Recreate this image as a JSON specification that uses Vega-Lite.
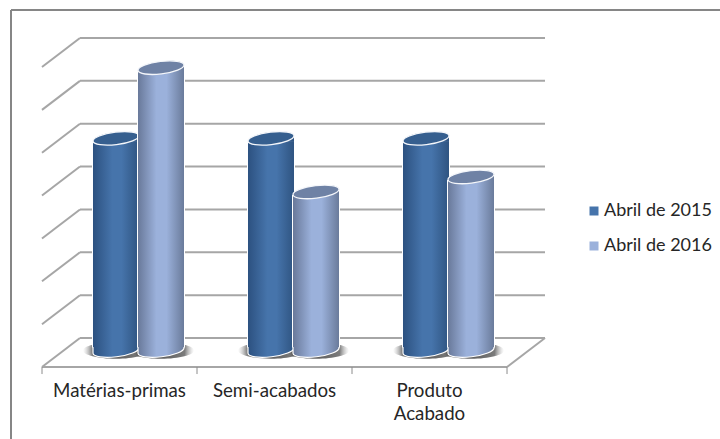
{
  "$schema": "https://vega.github.io/schema/vega-lite/v6.json",
  "width": 709,
  "height": 429,
  "autosize": "none",
  "padding": {"left": 11, "top": 10, "right": 0, "bottom": 0},
  "background": "white",
  "config": {
    "view": {"stroke": null},
    "axis": {"disable": true},
    "font": "Lato"
  },
  "datasets": {
    "niveis": [
      {"nivel": 0}, {"nivel": 20}, {"nivel": 40}, {"nivel": 60},
      {"nivel": 80}, {"nivel": 100}, {"nivel": 120}, {"nivel": 140}
    ],
    "marcas": [{"divisa": 0}, {"divisa": 1}, {"divisa": 2}, {"divisa": 3}],
    "rotulos": [
      {"categoria": "Matérias-primas", "rotulo": "Matérias-primas"},
      {"categoria": "Semi-acabados", "rotulo": "Semi-acabados"},
      {"categoria": "Produto Acabado", "rotulo": "Produto\nAcabado"}
    ]
  },
  "data": {
    "values": [
      {"categoria": "Matérias-primas", "periodo": "Abril de 2015", "valor": 99},
      {"categoria": "Matérias-primas", "periodo": "Abril de 2016", "valor": 132},
      {"categoria": "Semi-acabados", "periodo": "Abril de 2015", "valor": 99},
      {"categoria": "Semi-acabados", "periodo": "Abril de 2016", "valor": 74},
      {"categoria": "Produto Acabado", "periodo": "Abril de 2015", "valor": 99},
      {"categoria": "Produto Acabado", "periodo": "Abril de 2016", "valor": 81}
    ]
  },
  "resolve": {"scale": {"x": "independent", "y": "independent"}},
  "layer": [
    {
      "description": "Open frame, box walls and floor of the 3D plot",
      "layer": [
        {
          "data": {"name": "niveis"},
          "mark": {"type": "rule", "color": "#a6a6a6", "strokeWidth": 2},
          "encoding": {
            "x": {"datum": 0.245, "type": "quantitative", "scale": {"domain": [-0.2, 4.374], "nice": false, "zero": false}},
            "x2": {"datum": 3.245},
            "y": {"field": "nivel", "type": "quantitative", "scale": {"domain": [-47.1, 153.05], "nice": false, "zero": false}}
          }
        },
        {
          "data": {"name": "niveis"},
          "mark": {"type": "rule", "color": "#a6a6a6", "strokeWidth": 2, "y2Offset": 29},
          "encoding": {
            "x": {"datum": 0.245, "type": "quantitative"},
            "x2": {"datum": 0},
            "y": {"field": "nivel", "type": "quantitative"},
            "y2": {"field": "nivel"}
          }
        },
        {
          "data": {"name": "niveis"},
          "transform": [{"filter": "datum.nivel === 0"}],
          "mark": {"type": "rule", "color": "#a6a6a6", "strokeWidth": 2, "y2Offset": 29},
          "encoding": {
            "x": {"datum": 3.245, "type": "quantitative"},
            "x2": {"datum": 3},
            "y": {"field": "nivel", "type": "quantitative"},
            "y2": {"field": "nivel"}
          }
        },
        {
          "data": {"name": "niveis"},
          "transform": [{"filter": "datum.nivel === 0"}],
          "mark": {"type": "rule", "color": "#a6a6a6", "strokeWidth": 2, "yOffset": 29},
          "encoding": {
            "x": {"datum": 0, "type": "quantitative"},
            "x2": {"datum": 3},
            "y": {"field": "nivel", "type": "quantitative"}
          }
        },
        {
          "data": {"name": "marcas"},
          "mark": {"type": "rule", "color": "#8c8c8c", "strokeWidth": 1, "yOffset": 29, "y2Offset": 36},
          "encoding": {
            "x": {"field": "divisa", "type": "quantitative"},
            "y": {"datum": 0, "type": "quantitative"},
            "y2": {"datum": 0}
          }
        },
        {
          "mark": {"type": "rule", "color": "#868686", "strokeWidth": 2},
          "encoding": {
            "x": {"datum": -0.2, "type": "quantitative"},
            "y": {"datum": 153.05, "type": "quantitative"},
            "y2": {"datum": -47.1}
          }
        },
        {
          "mark": {"type": "rule", "color": "#868686", "strokeWidth": 2},
          "encoding": {
            "x": {"datum": -0.2, "type": "quantitative"},
            "x2": {"datum": 4.374},
            "y": {"datum": 153.05, "type": "quantitative"}
          }
        }
      ]
    },
    {
      "description": "Cylinders, drawn series by series so the lighter one sits in front",
      "layer": [
        {
          "mark": {
            "type": "point",
            "shape": "M-1,0A1,0.25,0,1,1,1,0A1,0.25,0,1,1,-1,0Z",
            "size": 4356,
            "filled": true,
            "opacity": 1,
            "fill": {
              "gradient": "radial",
              "stops": [
                {"offset": 0, "color": "rgba(70,70,70,0.9)"},
                {"offset": 0.72, "color": "rgba(90,90,90,0.8)"},
                {"offset": 1, "color": "rgba(170,170,170,0)"}
              ]
            }
          },
          "encoding": {
            "x": {
              "field": "categoria", "type": "nominal",
              "scale": {"type": "band", "domain": ["Matérias-primas", "Semi-acabados", "Produto Acabado"], "range": [50, 515], "paddingInner": 0, "paddingOuter": 0}
            },
            "xOffset": {
              "field": "periodo", "type": "nominal",
              "scale": {"type": "band", "domain": ["Abril de 2015", "Abril de 2016"], "paddingInner": 0, "paddingOuter": 0.722}
            },
            "y": {"datum": 0, "type": "quantitative", "scale": {"domain": [-41.3, 158.9], "nice": false, "zero": false}}
          }
        },
        {
          "mark": {"type": "bar", "width": 46, "yOffset": 3, "y2Offset": -3},
          "encoding": {
            "x": {"field": "categoria", "type": "nominal"},
            "xOffset": {"field": "periodo", "type": "nominal"},
            "y": {"field": "valor", "type": "quantitative"},
            "y2": {"datum": 0},
            "color": {
              "field": "periodo", "type": "nominal",
              "scale": {"domain": ["Abril de 2015", "Abril de 2016"], "range": ["#4674ab", "#9bb1db"]},
              "legend": {
                "title": null,
                "orient": "none",
                "legendX": 574,
                "legendY": 192,
                "symbolType": "square",
                "symbolSize": 81,
                "symbolStrokeWidth": 0,
                "labelFont": "Lato",
                "labelFontSize": 18,
                "labelColor": "#262626",
                "labelOffset": 1,
                "rowPadding": 17
              }
            }
          }
        },
        {
          "transform": [{"filter": "datum.periodo === 'Abril de 2015'"}],
          "layer": [
            {
              "mark": {"type": "bar", "width": 48, "yOffset": 3, "y2Offset": -3, "fill": "#ffffff"},
              "encoding": {
                "x": {"field": "categoria", "type": "nominal"},
                "xOffset": {"field": "periodo", "type": "nominal"},
                "y": {"field": "valor", "type": "quantitative"},
                "y2": {"datum": 0}
              }
            },
            {
              "mark": {
                "type": "bar", "width": 46, "yOffset": 3, "y2Offset": -3,
                "fill": {"gradient": "linear", "x1": 0, "x2": 1, "y1": 0, "y2": 0, "stops": [
                  {"offset": 0, "color": "#2c5180"}, {"offset": 0.42, "color": "#4674ab"}, {"offset": 0.62, "color": "#4674ab"}, {"offset": 1, "color": "#2f5481"}
                ]}
              },
              "encoding": {
                "x": {"field": "categoria", "type": "nominal"},
                "xOffset": {"field": "periodo", "type": "nominal"},
                "y": {"field": "valor", "type": "quantitative"},
                "y2": {"datum": 0}
              }
            },
            {
              "mark": {
                "type": "point", "size": 2116, "filled": true, "opacity": 1,
                "shape": "M-1,-0.15L-1,0.12A1,0.27,-7,0,0,1,-0.12L1,-0.15",
                "stroke": "#ffffff", "strokeWidth": 1.2,
                "fill": {"gradient": "linear", "x1": 0, "x2": 1, "y1": 0, "y2": 0, "stops": [
                  {"offset": 0, "color": "#2c5180"}, {"offset": 0.42, "color": "#4674ab"}, {"offset": 0.62, "color": "#4674ab"}, {"offset": 1, "color": "#2f5481"}
                ]}
              },
              "encoding": {
                "x": {"field": "categoria", "type": "nominal"},
                "xOffset": {"field": "periodo", "type": "nominal"},
                "y": {"datum": 0, "type": "quantitative"}
              }
            },
            {
              "mark": {
                "type": "point", "size": 2116, "filled": true, "opacity": 1,
                "shape": "M-1,0.12L1,-0.12L1,0.15L-1,0.15Z",
                "strokeWidth": 0,
                "fill": {"gradient": "linear", "x1": 0, "x2": 1, "y1": 0, "y2": 0, "stops": [
                  {"offset": 0, "color": "#2c5180"}, {"offset": 0.42, "color": "#4674ab"}, {"offset": 0.62, "color": "#4674ab"}, {"offset": 1, "color": "#2f5481"}
                ]}
              },
              "encoding": {
                "x": {"field": "categoria", "type": "nominal"},
                "xOffset": {"field": "periodo", "type": "nominal"},
                "y": {"field": "valor", "type": "quantitative"}
              }
            },
            {
              "mark": {
                "type": "point", "size": 2116, "filled": true, "opacity": 1,
                "shape": "M-1,0.12A1,0.27,-7,1,1,1,-0.12A1,0.27,-7,1,1,-1,0.12Z",
                "fill": "#365f8f", "stroke": "#f4f6fa", "strokeWidth": 1.3
              },
              "encoding": {
                "x": {"field": "categoria", "type": "nominal"},
                "xOffset": {"field": "periodo", "type": "nominal"},
                "y": {"field": "valor", "type": "quantitative"}
              }
            }
          ]
        },
        {
          "transform": [{"filter": "datum.periodo === 'Abril de 2016'"}],
          "layer": [
            {
              "mark": {"type": "bar", "width": 48, "yOffset": 3, "y2Offset": -3, "fill": "#ffffff"},
              "encoding": {
                "x": {"field": "categoria", "type": "nominal"},
                "xOffset": {"field": "periodo", "type": "nominal"},
                "y": {"field": "valor", "type": "quantitative"},
                "y2": {"datum": 0}
              }
            },
            {
              "mark": {
                "type": "bar", "width": 46, "yOffset": 3, "y2Offset": -3,
                "fill": {"gradient": "linear", "x1": 0, "x2": 1, "y1": 0, "y2": 0, "stops": [
                  {"offset": 0, "color": "#69799a"}, {"offset": 0.4, "color": "#9bb1db"}, {"offset": 0.62, "color": "#9bb1db"}, {"offset": 1, "color": "#6a7b9b"}
                ]}
              },
              "encoding": {
                "x": {"field": "categoria", "type": "nominal"},
                "xOffset": {"field": "periodo", "type": "nominal"},
                "y": {"field": "valor", "type": "quantitative"},
                "y2": {"datum": 0}
              }
            },
            {
              "mark": {
                "type": "point", "size": 2116, "filled": true, "opacity": 1,
                "shape": "M-1,-0.15L-1,0.12A1,0.27,-7,0,0,1,-0.12L1,-0.15",
                "stroke": "#ffffff", "strokeWidth": 1.2,
                "fill": {"gradient": "linear", "x1": 0, "x2": 1, "y1": 0, "y2": 0, "stops": [
                  {"offset": 0, "color": "#69799a"}, {"offset": 0.4, "color": "#9bb1db"}, {"offset": 0.62, "color": "#9bb1db"}, {"offset": 1, "color": "#6a7b9b"}
                ]}
              },
              "encoding": {
                "x": {"field": "categoria", "type": "nominal"},
                "xOffset": {"field": "periodo", "type": "nominal"},
                "y": {"datum": 0, "type": "quantitative"}
              }
            },
            {
              "mark": {
                "type": "point", "size": 2116, "filled": true, "opacity": 1,
                "shape": "M-1,0.12L1,-0.12L1,0.15L-1,0.15Z",
                "strokeWidth": 0,
                "fill": {"gradient": "linear", "x1": 0, "x2": 1, "y1": 0, "y2": 0, "stops": [
                  {"offset": 0, "color": "#69799a"}, {"offset": 0.4, "color": "#9bb1db"}, {"offset": 0.62, "color": "#9bb1db"}, {"offset": 1, "color": "#6a7b9b"}
                ]}
              },
              "encoding": {
                "x": {"field": "categoria", "type": "nominal"},
                "xOffset": {"field": "periodo", "type": "nominal"},
                "y": {"field": "valor", "type": "quantitative"}
              }
            },
            {
              "mark": {
                "type": "point", "size": 2116, "filled": true, "opacity": 1,
                "shape": "M-1,0.12A1,0.27,-7,1,1,1,-0.12A1,0.27,-7,1,1,-1,0.12Z",
                "fill": "#6f82a5", "stroke": "#f4f6fa", "strokeWidth": 1.3
              },
              "encoding": {
                "x": {"field": "categoria", "type": "nominal"},
                "xOffset": {"field": "periodo", "type": "nominal"},
                "y": {"field": "valor", "type": "quantitative"}
              }
            }
          ]
        },
        {
          "data": {"name": "rotulos"},
          "mark": {"type": "text", "font": "Lato", "fontSize": 18.7, "color": "#262626", "baseline": "top", "align": "center", "dx": -19, "lineBreak": "\n", "lineHeight": 23},
          "encoding": {
            "x": {"field": "categoria", "type": "nominal"},
            "y": {"datum": -14.8, "type": "quantitative"},
            "text": {"field": "rotulo"}
          }
        }
      ]
    }
  ]
}
